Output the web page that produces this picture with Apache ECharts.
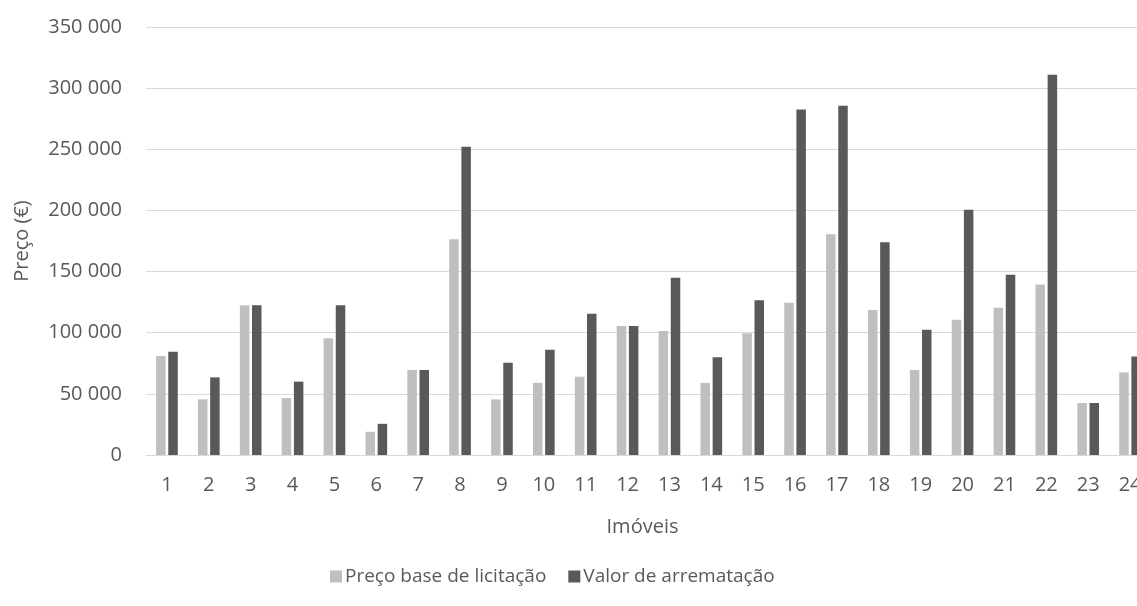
<!DOCTYPE html>
<html>
<head>
<meta charset="utf-8">
<script src="https://cdn.jsdelivr.net/npm/echarts@6/dist/echarts.min.js"></script>
<style>
  html, body { margin: 0; padding: 0; background: #ffffff; }
  #chart { width: 1137px; height: 606px; }
</style>
</head>
<body>
<div id="chart"></div>
<script>
// Imóveis 1..24
const categories = ['1','2','3','4','5','6','7','8','9','10','11','12','13','14','15','16','17','18','19','20','21','22','23','24'];

// Preço base de licitação (€)
const precoBase = [81000, 45500, 122500, 46500, 95500, 19000, 69500, 176500, 45500, 59000, 64000, 105500,
                   101500, 59000, 99500, 124500, 180500, 118500, 69500, 110500, 120500, 139500, 42500, 67500];

// Valor de arrematação (€)
const valorArrematacao = [84500, 63500, 122500, 60000, 122500, 25500, 69500, 252000, 75500, 86000, 115500, 105500,
                          145000, 80000, 126500, 282500, 285500, 174000, 102500, 200500, 147500, 311000, 42500, 80500];

const seriesNames = ['Preço base de licitação', 'Valor de arrematação'];
const yTicks = { min: 0, max: 350000, interval: 50000 };

const FONT = '"Open Sans", sans-serif';
const TEXT = '#595959';

function fmtThousands(v) {
  return String(v).replace(/\B(?=(\d{3})+(?!\d))/g, ' ');
}

const chart = echarts.init(document.getElementById('chart'), null, { renderer: 'canvas' });

// the plot area runs past the right edge of the canvas, so the last category is clipped
chart.setOption({
  animation: false,
  backgroundColor: '#ffffff',
  textStyle: { fontFamily: FONT, color: TEXT },
  grid: { left: 146, width: 1005, top: 27, height: 428, containLabel: false, outerBoundsMode: 'none' },
  legend: {
    data: seriesNames,
    bottom: 15,
    left: 325,
    itemWidth: 12,
    itemHeight: 12,
    itemGap: 22,
    icon: 'rect',
    textStyle: { fontFamily: FONT, fontSize: 19, color: TEXT, padding: [0, 0, 0, -2] }
  },
  xAxis: {
    type: 'category',
    data: categories,
    name: 'Imóveis',
    nameLocation: 'middle',
    nameGap: 62,
    nameTextStyle: { fontFamily: FONT, fontSize: 20, color: TEXT, padding: [0, 12, 0, 0] },
    axisLine: { show: true, lineStyle: { color: '#d9d9d9', width: 1 } },
    axisTick: { show: false },
    axisLabel: { fontFamily: FONT, fontSize: 20, color: TEXT, margin: 20, interval: 0, showMaxLabel: true },
    splitLine: { show: false }
  },
  yAxis: {
    type: 'value',
    min: yTicks.min,
    max: yTicks.max,
    interval: yTicks.interval,
    name: 'Preço (€)',
    nameLocation: 'middle',
    nameGap: 114,
    nameRotate: 90,
    nameTextStyle: { fontFamily: FONT, fontSize: 20, color: TEXT },
    axisLine: { show: false },
    axisTick: { show: false },
    axisLabel: { fontFamily: FONT, fontSize: 20, color: TEXT, margin: 24, formatter: fmtThousands },
    splitLine: { show: true, lineStyle: { color: '#d9d9d9', width: 1 } }
  },
  series: [
    {
      name: seriesNames[0],
      type: 'bar',
      data: precoBase,
      barWidth: 9.5,
      barGap: '28%',
      itemStyle: { color: '#bfbfbf' }
    },
    {
      name: seriesNames[1],
      type: 'bar',
      data: valorArrematacao,
      barWidth: 9.5,
      barGap: '28%',
      itemStyle: { color: '#595959' }
    }
  ]
});
</script>
</body>
</html>
